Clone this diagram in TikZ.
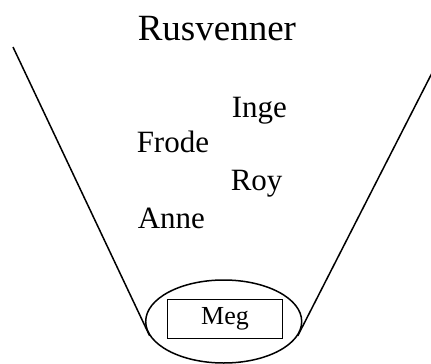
\documentclass[tikz,border=0pt]{standalone}
\usepackage{fontspec}
\setmainfont{Liberation Serif}
\usetikzlibrary{shapes.geometric}

\begin{document}
\begin{tikzpicture}[x=1pt,y=-1pt,line width=1.5pt,
  friend/.style={anchor=base west, inner sep=0pt, font=\fontsize{31}{36}\selectfont}]
\useasboundingbox (0,0) rectangle (431,364);
\node[anchor=base west, inner sep=0pt, font=\fontsize{37}{44}\selectfont] (title) at (137,40) {Rusvenner};
\node[friend] (inge) at (231,117) {Inge};
\node[friend] (frode) at (136,152) {Frode};
\node[friend] (roy) at (230,190) {Roy};
\node[friend] (anne) at (137,228) {Anne};
\node[ellipse, draw, minimum width=156pt, minimum height=83pt, inner sep=0pt] (ring) at (223.7,321.5) {};
\node[draw, minimum width=115pt, minimum height=39pt, font=\fontsize{26}{30}\selectfont] (meg) at (225,318.8) {Meg};
\coordinate (ltop) at (13,47);
\coordinate (rtop) at (432.5,72);
\draw (ltop) -- (ring.191);
\draw (rtop) -- (ring.349);
\end{tikzpicture}
\end{document}
